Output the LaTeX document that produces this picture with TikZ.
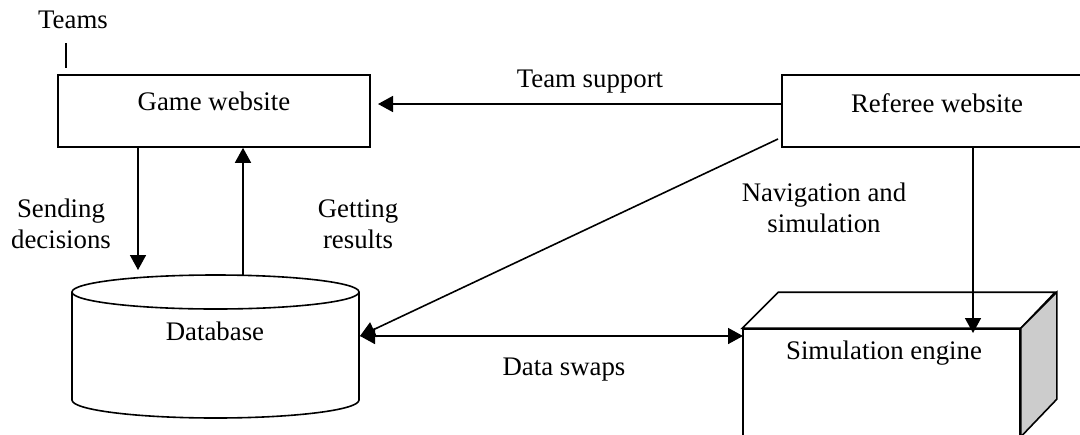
\documentclass[tikz,border=0pt]{standalone}
\usepackage{fontspec}
\setmainfont{Liberation Serif}
\usetikzlibrary{arrows.meta}
\begin{document}
\begin{tikzpicture}[x=0.5pt,y=0.5pt,
  line width=0.8pt,
  every node/.style={font=\fontsize{13.4pt}{15.5pt}\selectfont, inner sep=0pt},
  boxnode/.style={draw, rectangle, line width=0.8pt},
  lbl/.style={anchor=base, align=center},
  arr/.style={-{Triangle[length=7.5pt,width=8pt]}},
  darr/.style={{Triangle[length=7.5pt,width=8pt]}-{Triangle[length=7.5pt,width=8pt]}}]
\clip (0,0) rectangle (1080,-434);
\fill[white] (0,0) rectangle (1080,-434);

% Game website
\node[boxnode, minimum width=156pt, minimum height=36pt] (game) at (214,-111) {};
\node[lbl] (gametxt) at (214,-110) {Game website};
% Teams
\node[lbl] (teams) at (73,-28) {Teams};
\coordinate (teamsTop) at (66,-43);
\coordinate (teamsBot) at (66,-68);
\draw (teamsTop) -- (teamsBot);

% Referee website
\node[boxnode, minimum width=155pt, minimum height=36pt] (ref) at (937,-111) {};
\node[lbl] (reftxt) at (937,-112) {Referee website};

% Database cylinder
\coordinate (dbC) at (215.5,-292);
\draw[fill=white] (72,-292) -- (72,-400) arc[start angle=180,end angle=360,x radius=143.5,y radius=18] -- (359,-292);
\draw (dbC) ellipse [x radius=143.5, y radius=17];
\node[lbl] (db) at (215,-340) {Database};
\coordinate (dbE) at (360,-336);
\coordinate (dbTopA) at (138,-270);
\coordinate (dbTopB) at (243,-275);

% Simulation engine
\node[boxnode, minimum width=138.5pt, minimum height=53.5pt] (sim) at (881.5,-382.5) {};
\draw (sim.north west) -- ++(36,36) -- ++(277,0) -- (sim.north east) -- cycle;
\draw[fill=gray!40] (sim.north east) -- ++(36,36) -- ++(0,-107) -- (sim.south east) -- cycle;
\node[lbl] (simtxt) at (884,-359) {Simulation engine};
\coordinate (simW) at (743,-336);
\coordinate (simTop) at (973,-333);

% Connectors
\draw[arr] (game.south -| dbTopA) -- (dbTopA);
\draw[arr] (dbTopB) -- (game.south -| dbTopB);
\draw[arr] (ref.west |- 0,-104) -- (378,-104) coordinate (tsTip);
\draw[arr] (778,-139) coordinate (refSW) -- (dbE);
\draw[darr] (dbE) -- (simW);
\draw[arr] (ref.south -| simTop) -- (simTop);

% Labels
\node[lbl] (tslbl) at (590,-87) {Team support};
\node[lbl] (sendlbl) at (61,-248) {Sending\\decisions};
\node[lbl] (getlbl) at (358,-248) {Getting\\results};
\node[lbl] (navlbl) at (824,-232) {Navigation and\\simulation};
\node[lbl] (dslbl) at (564,-375) {Data swaps};
\end{tikzpicture}
\end{document}
